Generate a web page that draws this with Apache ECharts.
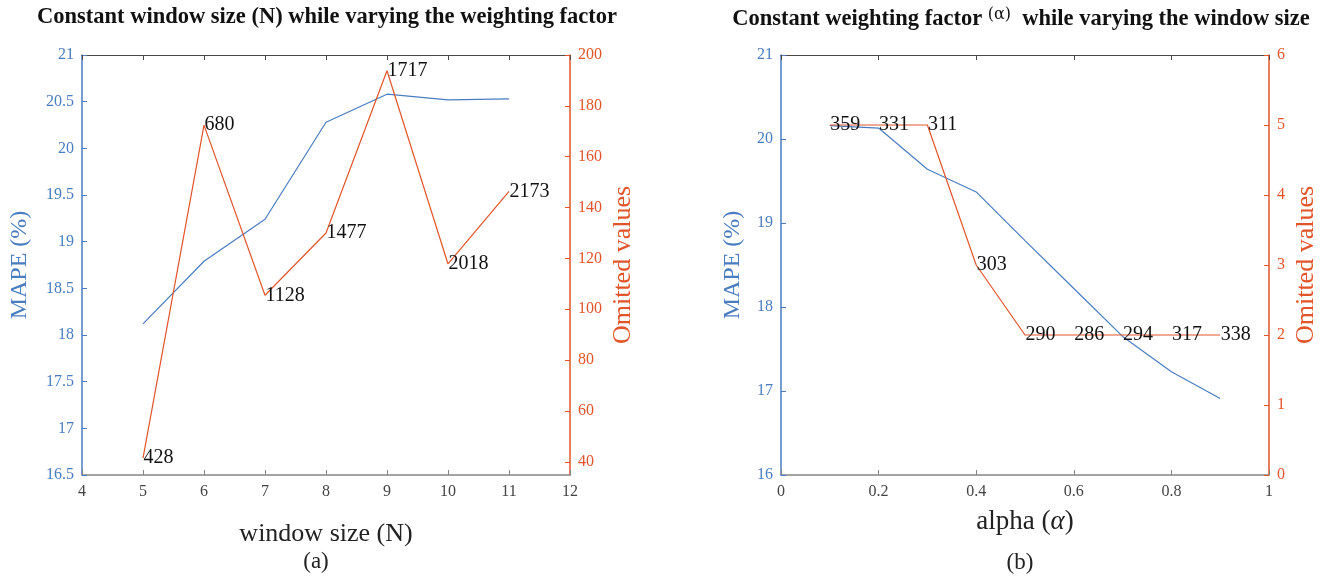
<!DOCTYPE html>
<html>
<head>
<meta charset="utf-8">
<script src="https://cdn.jsdelivr.net/npm/echarts@6/dist/echarts.min.js"></script>
<style>
  html, body { margin: 0; padding: 0; background: #fff; }
  #chart { width: 1327px; height: 581px; }
</style>
</head>
<body>
<div id="chart"></div>
<script>
// Panel (a): constant window size N while the weighting factor varies
const windowSizes = [5, 6, 7, 8, 9, 10, 11];
const mapeByWindow = [18.12, 18.79, 19.24, 20.28, 20.58, 20.52, 20.53];
const omittedByWindow = [41.4, 172.4, 105.5, 130.0, 193.8, 117.8, 146.4];
const omittedCountsA = ['428', '680', '1128', '1477', '1717', '2018', '2173'];
const omittedTicksA = [40, 60, 80, 100, 120, 140, 160, 180, 200];

// Panel (b): constant weighting factor alpha while the window size varies
const alphas = [0.1, 0.2, 0.3, 0.4, 0.5, 0.6, 0.7, 0.8, 0.9];
const mapeByAlpha = [20.16, 20.13, 19.64, 19.37, 18.79, 18.22, 17.65, 17.23, 16.91];
const omittedByAlpha = [5, 5, 5, 3, 2, 2, 2, 2, 2];
const omittedCountsB = ['359', '331', '311', '303', '290', '286', '294', '317', '338'];

const SERIF = "'Liberation Serif', 'DejaVu Serif', serif";
const BLUE = '#4a7dc0';
const RED = '#e2542a';
const AXIS_GRAY = '#858585';
const BOX_GRAY = '#4a4a4a';

function pairs(xs, ys) { return xs.map((x, i) => [x, ys[i]]); }

function bottomAxis(gridIndex, min, max, interval, name, nameGap, fontSize, rich) {
  return {
    gridIndex, type: 'value', position: 'bottom', min, max, interval,
    name, nameLocation: 'middle', nameGap,
    nameTextStyle: { fontFamily: SERIF, fontSize, color: '#222', rich: rich || {} },
    axisLine: { show: true, onZero: false, lineStyle: { color: AXIS_GRAY, width: 1.5 } },
    axisTick: { show: true, inside: true, length: 5, lineStyle: { color: AXIS_GRAY } },
    axisLabel: { color: '#444', fontFamily: SERIF, fontSize: 16, margin: 9 },
    splitLine: { show: false }
  };
}

function topAxis(gridIndex, min, max, interval) {
  return {
    gridIndex, type: 'value', position: 'top', min, max, interval,
    axisLine: { show: true, onZero: false, lineStyle: { color: BOX_GRAY, width: 1 } },
    axisTick: { show: true, inside: true, length: 5, lineStyle: { color: BOX_GRAY } },
    axisLabel: { show: false },
    splitLine: { show: false }
  };
}

function sideAxis(gridIndex, position, color, nameSize, opts) {
  return Object.assign({
    gridIndex, type: 'value', position,
    nameLocation: 'middle', nameRotate: 90,
    nameTextStyle: { fontFamily: SERIF, fontSize: nameSize, color },
    axisLine: { show: true, onZero: false, lineStyle: { color, width: 1.5 } },
    axisTick: { show: true, inside: true, length: 5, lineStyle: { color } },
    axisLabel: { color, fontFamily: SERIF, fontSize: 16, margin: 8 },
    splitLine: { show: false }
  }, opts);
}

function lineSeries(xAxisIndex, yAxisIndex, data, color, labels) {
  const s = {
    type: 'line', xAxisIndex, yAxisIndex, data,
    lineStyle: { color, width: 1.2 },
    itemStyle: { color: 'rgba(0,0,0,0)' },
    symbol: 'circle', symbolSize: 1, showSymbol: !!labels,
    emphasis: { disabled: true }, animation: false
  };
  if (labels) {
    s.label = {
      show: true, position: 'right', distance: 0,
      color: '#111', fontFamily: SERIF, fontSize: 20,
      formatter: p => labels[p.dataIndex]
    };
    s.z = 3;
  }
  return s;
}

const option = {
  backgroundColor: '#fff',
  animation: false,
  grid: [
    { left: 82, top: 55, width: 488, height: 420 },
    { left: 781, top: 55, width: 488, height: 420 }
  ],
  xAxis: [
    bottomAxis(0, 4, 12, 1, 'window size (N)', 46, 26),
    topAxis(0, 4, 12, 1),
    bottomAxis(1, 0, 1, 0.2, 'alpha ({i|α})', 33, 27,
      { i: { fontFamily: SERIF, fontSize: 27, fontStyle: 'italic', color: '#222' } }),
    topAxis(1, 0, 1, 0.2)
  ],
  yAxis: [
    sideAxis(0, 'left', BLUE, 24, { min: 16.5, max: 21, interval: 0.5, name: 'MAPE (%)', nameGap: 50 }),
    sideAxis(0, 'right', RED, 26, {
      min: 34.8, max: 200, name: 'Omitted values', nameGap: 40,
      axisTick: { show: true, inside: true, length: 5, lineStyle: { color: RED }, customValues: omittedTicksA },
      axisLabel: { color: RED, fontFamily: SERIF, fontSize: 16, margin: 8, customValues: omittedTicksA }
    }),
    sideAxis(1, 'left', BLUE, 24, { min: 16, max: 21, interval: 1, name: 'MAPE (%)', nameGap: 36 }),
    sideAxis(1, 'right', RED, 26, { min: 0, max: 6, interval: 1, name: 'Omitted values', nameGap: 24 })
  ],
  series: [
    lineSeries(0, 0, pairs(windowSizes, mapeByWindow), BLUE),
    lineSeries(0, 1, pairs(windowSizes, omittedByWindow), RED, omittedCountsA),
    lineSeries(2, 2, pairs(alphas, mapeByAlpha), BLUE),
    lineSeries(2, 3, pairs(alphas, omittedByAlpha), RED, omittedCountsB)
  ],
  graphic: [
    {
      type: 'text', x: 327, y: 17,
      style: {
        text: 'Constant window size (N) while varying the weighting factor',
        font: "bold 22.5px 'Liberation Serif', 'DejaVu Serif', serif",
        fill: '#111', align: 'center', verticalAlign: 'middle'
      }
    },
    {
      type: 'text', x: 1021, y: 19,
      style: {
        text: '{t|Constant weighting factor }{g|(α)}{t|  while varying the window size}',
        rich: {
          t: { fontFamily: SERIF, fontWeight: 'bold', fontSize: 22.5, fill: '#111' },
          g: { fontFamily: "'DejaVu Serif', serif", fontSize: 16, fill: '#111', padding: [0, 0, 8, 0] }
        },
        align: 'center', verticalAlign: 'middle'
      }
    },
    {
      type: 'text', x: 316, y: 562,
      style: { text: '(a)', font: "23px 'Liberation Serif', serif", fill: '#222', align: 'center', verticalAlign: 'middle' }
    },
    {
      type: 'text', x: 1020, y: 563,
      style: { text: '(b)', font: "23px 'Liberation Serif', serif", fill: '#222', align: 'center', verticalAlign: 'middle' }
    }
  ]
};

const chart = echarts.init(document.getElementById('chart'), null, { renderer: 'canvas' });
chart.setOption(option);
</script>
</body>
</html>
